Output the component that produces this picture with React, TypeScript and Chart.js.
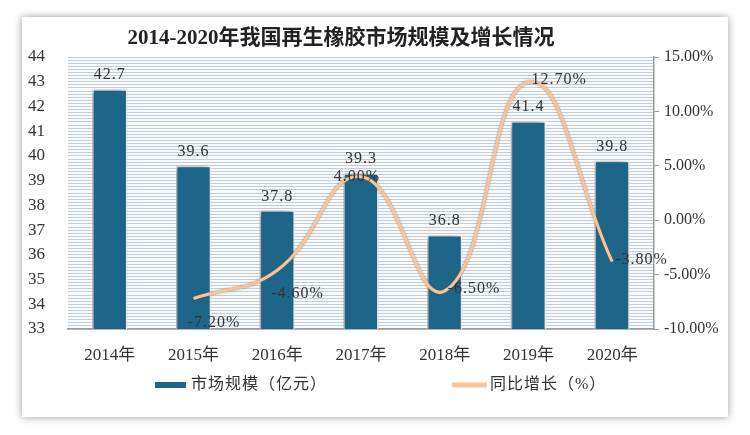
import React, { useEffect, useRef } from 'react';
import { Chart, registerables } from 'chart.js';

Chart.register(...registerables);

const titleText = '2014-2020年我国再生橡胶市场规模及增长情况';
const years = ['2014年', '2015年', '2016年', '2017年', '2018年', '2019年', '2020年'];
const marketSize = [42.7, 39.6, 37.8, 39.3, 36.8, 41.4, 39.8];
const growth: (number | null)[] = [null, -7.2, -4.6, 4.0, -6.5, 12.7, -3.8];
const barLabel = '市场规模（亿元）';
const lineLabel = '同比增长（%）';
const leftMin = 33, leftMax = 44, leftStep = 1;
const rightMin = -10, rightMax = 15, rightStep = 5;
const growthLabelPlacement = ['', 'below', 'below', 'center', 'right', 'right', 'right'];

const FONT = '"Liberation Serif", "Noto Sans CJK SC", serif';
const BAR_COLOR = '#1d6589';
const LINE_COLOR = '#f7c59b';

const bgPlugin = {
  id: 'plotBg',
  beforeDraw(chart: any) {
    const { ctx, chartArea: a } = chart;
    ctx.save();
    ctx.fillStyle = '#f7f9fa';
    ctx.fillRect(a.left, a.top, a.right - a.left, a.bottom - a.top);
    ctx.restore();
  },
};

const titlePlugin = {
  id: 'customTitle',
  afterDraw(chart: any) {
    const { ctx, chartArea: a } = chart;
    ctx.save();
    ctx.font = `bold 21px ${FONT}`;
    ctx.fillStyle = '#222';
    ctx.textAlign = 'center';
    ctx.textBaseline = 'middle';
    ctx.fillText(titleText, (a.left + a.right) / 2 - 20, a.top - 18);
    ctx.restore();
  },
};

const shadowPlugin = {
  id: 'shadows',
  beforeDatasetDraw(chart: any, args: any) {
    const ctx = chart.ctx;
    ctx.save();
    if (args.meta.type === 'bar') {
      ctx.shadowColor = 'rgba(0,0,0,0.45)';
      ctx.shadowBlur = 8;
      ctx.shadowOffsetX = -3;
      ctx.shadowOffsetY = 0;
    } else {
      ctx.shadowColor = 'rgba(140,100,60,0.8)';
      ctx.shadowBlur = 2;
      ctx.shadowOffsetX = 0;
      ctx.shadowOffsetY = 0;
    }
  },
  afterDatasetDraw(chart: any) {
    chart.ctx.restore();
  },
};

const labelPlugin = {
  id: 'valueLabels',
  afterDatasetsDraw(chart: any) {
    const ctx = chart.ctx;
    ctx.save();
    ctx.font = `16px ${FONT}`;
    ctx.fillStyle = '#333';
    (ctx as any).letterSpacing = '1px';
    const barMeta = chart.getDatasetMeta(0);
    barMeta.data.forEach((el: any, i: number) => {
      ctx.textAlign = 'center';
      ctx.textBaseline = 'middle';
      ctx.fillText(marketSize[i].toFixed(1), el.x, el.y - 14);
    });
    const lineMeta = chart.getDatasetMeta(1);
    lineMeta.data.forEach((el: any, i: number) => {
      const v = growth[i];
      if (v === null) return;
      const txt = v.toFixed(2) + '%';
      const p = growthLabelPlacement[i];
      ctx.textBaseline = 'middle';
      if (p === 'below') {
        ctx.textAlign = 'left';
        ctx.fillText(txt, el.x - 6, el.y + 24);
      } else if (p === 'center') {
        ctx.textAlign = 'center';
        ctx.fillText(txt, el.x - 4, el.y);
      } else {
        ctx.textAlign = 'left';
        ctx.fillText(txt, el.x + 3, el.y - 2);
      }
    });
    ctx.restore();
  },
};

const legendPlugin = {
  id: 'customLegend',
  afterDraw(chart: any) {
    const { ctx, chartArea: a } = chart;
    const y = 385;
    ctx.save();
    ctx.font = `16px ${FONT}`;
    (ctx as any).letterSpacing = '1px';
    ctx.fillStyle = BAR_COLOR;
    ctx.fillRect(a.left + 87, y - 3, 31, 6);
    ctx.fillStyle = '#333';
    ctx.textAlign = 'left';
    ctx.textBaseline = 'middle';
    ctx.fillText(barLabel, a.left + 123, y);
    ctx.fillStyle = LINE_COLOR;
    ctx.fillRect(a.left + 384, y - 2.5, 35, 5);
    ctx.fillStyle = '#333';
    ctx.fillText(lineLabel, a.left + 422, y);
    ctx.restore();
  },
};

export default function App() {
  const ref = useRef<HTMLCanvasElement>(null);
  useEffect(() => {
    document.body.style.margin = '0';
    const chart = new Chart(ref.current!, {
      type: 'bar',
      data: {
        labels: years,
        datasets: [
          {
            type: 'bar',
            label: barLabel,
            data: marketSize,
            backgroundColor: BAR_COLOR,
            borderColor: '#ffffff',
            borderWidth: 1.5,
            barPercentage: 0.42,
            categoryPercentage: 1,
            yAxisID: 'y',
            order: 2,
          },
          {
            type: 'line',
            label: lineLabel,
            data: growth,
            borderColor: LINE_COLOR,
            borderWidth: 3,
            pointRadius: 0,
            tension: 0.45,
            fill: false,
            yAxisID: 'y1',
            order: 1,
          } as any,
        ],
      },
      options: {
        animation: false,
        responsive: false,
        devicePixelRatio: 1,
        layout: { padding: { top: 57, left: 0, right: 0, bottom: 0 } },
        plugins: {
          legend: { display: false },
          tooltip: { enabled: false },
          title: { display: false },
        },
        scales: {
          x: {
            grid: { display: false },
            border: { display: true, color: '#9a9a9a', width: 1.5 },
            ticks: { color: '#333', font: { family: FONT, size: 17 }, padding: 8 },
            afterFit: (s: any) => { s.height = 106; },
          },
          yg: {
            position: 'left',
            min: leftMin,
            max: leftMax,
            ticks: { display: false, stepSize: 0.125 },
            grid: { color: '#c3ced8', drawTicks: false, lineWidth: 1 },
            border: { display: false },
            afterFit: (s: any) => { s.width = 0; },
          },
          y: {
            position: 'left',
            min: leftMin,
            max: leftMax,
            ticks: { stepSize: leftStep, color: '#333', font: { family: FONT, size: 17 }, padding: 15 },
            grid: { display: false },
            border: { display: false },
            afterFit: (s: any) => { s.width = 68; },
          },
          y1: {
            position: 'right',
            min: rightMin,
            max: rightMax,
            ticks: {
              stepSize: rightStep,
              color: '#333',
              font: { family: FONT, size: 16 },
              padding: 5,
              callback: (v: any) => Number(v).toFixed(2) + '%',
            },
            grid: { drawOnChartArea: false, drawTicks: true, tickLength: 5, color: '#9a9a9a' },
            border: { display: true, color: '#9a9a9a', width: 1.5 },
            afterFit: (s: any) => { s.width = 96; },
          },
        },
      },
      plugins: [bgPlugin, shadowPlugin, labelPlugin, legendPlugin, titlePlugin],
    });
    return () => chart.destroy();
  }, []);
  return (
    <div style={{ position: 'relative', width: 750, height: 435, background: '#fff' }}>
      <div
        style={{
          position: 'absolute',
          left: 22,
          top: 17,
          width: 706,
          height: 400,
          background: '#fff',
          boxShadow: '0 0 8px rgba(0,0,0,0.4)',
        }}
      />
      <canvas ref={ref} width={750} height={435} style={{ position: 'absolute', left: 0, top: 0 }} />
    </div>
  );
}
